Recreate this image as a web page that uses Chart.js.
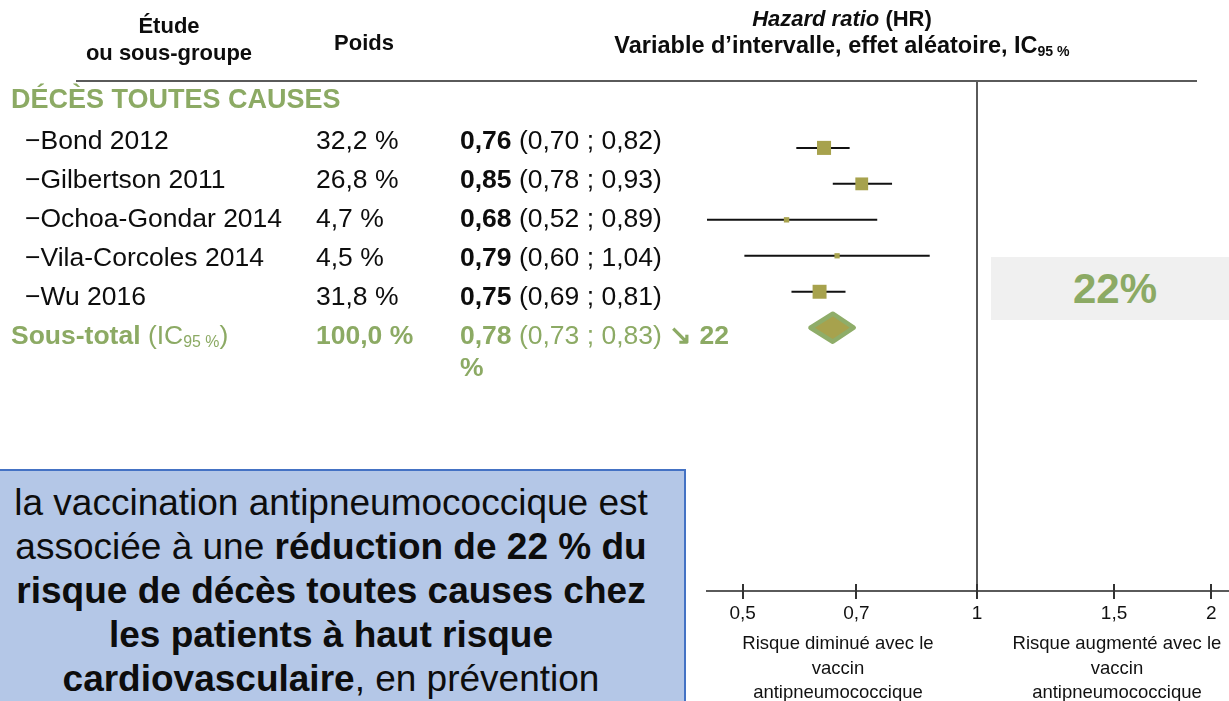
<!DOCTYPE html>
<html lang="fr">
<head>
<meta charset="utf-8">
<title>Vaccination antipneumococcique – décès toutes causes</title>
<script src="https://cdn.jsdelivr.net/npm/chart.js@4.4.1/dist/chart.umd.min.js"></script>
<style>
  html, body { margin: 0; padding: 0; background: #fff; }
  body {
    position: relative; width: 1229px; height: 701px; overflow: hidden;
    font-family: "Liberation Sans", Arial, Helvetica, sans-serif; color: #0d0d0d;
  }
  #forest { position: absolute; left: 0; top: 0; }
  .t { position: absolute; white-space: nowrap; }
  .c { transform: translateX(-50%); text-align: center; }
  .hdr { font-weight: bold; font-size: 22px; line-height: 27px; }
  .row { font-size: 26.5px; line-height: 32px; }
  .green { color: #8caa64; }
  sub.ic { font-size: 0.6em; vertical-align: baseline; position: relative; top: 0.2em; }
  #topRule { position: absolute; left: 76px; top: 80px; width: 1121px; height: 2px; background: #5a5a5a; }
  .axisNote { font-size: 18.5px; line-height: 24.5px; color: #111; }
  #summary {
    position: absolute; left: -2px; top: 469px; width: 688px; height: 260px;
    background: #b4c7e7; border: 2px solid #4472c4; box-sizing: border-box;
  }
  #summaryText {
    position: absolute; left: 0; top: 481px; width: 662px; text-align: center;
    font-size: 37px; line-height: 44px; color: #0d0d0d;
  }
  #badge {
    position: absolute; left: 991px; top: 257px; width: 248px; height: 63px;
    background: #f0f0f0; color: #8caa64; font-weight: bold; font-size: 42px;
    line-height: 63px; text-align: center;
  }
</style>
</head>
<body>
<canvas id="forest" width="1229" height="701"></canvas>

<div id="topRule"></div>
<div class="t c hdr" style="left:169px; top:12px;">Étude<br>ou sous-groupe</div>
<div class="t c hdr" style="left:364px; top:29px;">Poids</div>
<div class="t c hdr" style="left:842px; top:5px;"><i>Hazard ratio</i> (HR)<br><span style="font-size:23.5px;">Variable d’intervalle, effet aléatoire, IC<sub class="ic">95 %</sub></span></div>

<div class="t row green" style="left:11px; top:83px; font-weight:bold; font-size:27px;">DÉCÈS TOUTES CAUSES</div>
<div id="tableRows"></div>

<div class="t c axisNote" style="left:838px; top:631px;">Risque diminué avec le<br>vaccin<br>antipneumococcique</div>
<div class="t c axisNote" style="left:1117px; top:631px;">Risque augmenté avec le<br>vaccin<br>antipneumococcique</div>

<div id="badge"></div>

<div id="summary"></div>
<div id="summaryText">la vaccination antipneumococcique est<br>associée à une <b>réduction de 22 % du</b><br><b>risque de décès toutes causes chez</b><br><b>les patients à haut risque</b><br><b>cardiovasculaire</b>, en prévention</div>

<script>
// Studies of the meta-analysis (hazard ratio, 95 % CI, weight in %)
const studies  = ['Bond 2012', 'Gilbertson 2011', 'Ochoa-Gondar 2014', 'Vila-Corcoles 2014', 'Wu 2016'];
const weights  = [32.2, 26.8, 4.7, 4.5, 31.8];
const hazard   = [0.76, 0.85, 0.68, 0.79, 0.75];
const ciLow    = [0.70, 0.78, 0.52, 0.60, 0.69];
const ciHigh   = [0.82, 0.93, 0.89, 1.04, 0.81];

// Pooled random-effects estimate
const pooledHazard = 0.78;
const pooledLow    = 0.73;
const pooledHigh   = 0.83;
const pooledWeight = 100.0;

// Ticks of the hazard-ratio axis
const axisTicks = [0.5, 0.7, 1, 1.5, 2];

const GREEN = '#8caa64';
const OLIVE = '#a7a24d';
const fr = (v, d) => v.toFixed(d).replace('.', ',');
const reduction = Math.round((1 - pooledHazard) * 100);

// ---- text columns ----
const rowTop = 124, rowStep = 39;
let html = '';
studies.forEach((name, i) => {
  const top = rowTop + i * rowStep;
  html += `<div class="t row" style="left:25px; top:${top}px;">\u2212${name}</div>`;
  html += `<div class="t row" style="left:316px; top:${top}px;">${fr(weights[i], 1)} %</div>`;
  html += `<div class="t row" style="left:460px; top:${top}px;"><b>${fr(hazard[i], 2)}</b> (${fr(ciLow[i], 2)} ; ${fr(ciHigh[i], 2)})</div>`;
});
const totTop = rowTop + studies.length * rowStep;
html += `<div class="t row green" style="left:11px; top:${totTop}px;"><b>Sous-total</b> (IC<sub class="ic">95 %</sub>)</div>`;
html += `<div class="t row green" style="left:316px; top:${totTop}px;"><b>${fr(pooledWeight, 1)} %</b></div>`;
html += `<div class="t row green" style="left:460px; top:${totTop}px;"><b>${fr(pooledHazard, 2)}</b> (${fr(pooledLow, 2)} ; ${fr(pooledHigh, 2)}) <b>\u2198 ${reduction}</b><br><b>%</b></div>`;
document.getElementById('tableRows').innerHTML = html;
document.getElementById('badge').textContent = reduction + '%';

// ---- forest plot ----
const ciSets = studies.map((name, i) => ({
  label: name,
  data: [{ x: ciLow[i], y: i }, { x: ciHigh[i], y: i }],
  showLine: true,
  borderColor: '#111',
  borderWidth: 2,
  pointRadius: 0,
  xAxisID: 'xm',
  order: 2
}));

const squares = {
  label: 'HR',
  data: studies.map((name, i) => ({ x: hazard[i], y: i })),
  pointStyle: 'rect',
  pointRadius: weights.map(w => 1.75 * Math.sqrt(w)),
  pointBackgroundColor: OLIVE,
  pointBorderWidth: 0,
  showLine: false,
  xAxisID: 'xm',
  order: 1
};

const forestExtras = {
  id: 'forestExtras',
  afterDatasetsDraw(chart) {
    const { ctx, chartArea, scales } = chart;
    const { x, xm, y } = scales;
    // pooled diamond
    const yc = y.getPixelForValue(studies.length);
    const xl = xm.getPixelForValue(pooledLow);
    const xc = xm.getPixelForValue(pooledHazard);
    const xr = xm.getPixelForValue(pooledHigh);
    ctx.save();
    ctx.beginPath();
    ctx.moveTo(xl, yc);
    ctx.lineTo(xc, yc - 14);
    ctx.lineTo(xr, yc);
    ctx.lineTo(xc, yc + 14);
    ctx.closePath();
    ctx.fillStyle = OLIVE;
    ctx.fill();
    ctx.lineWidth = 4.5;
    ctx.lineJoin = 'round';
    ctx.strokeStyle = '#8fad69';
    ctx.stroke();
    // tick marks crossing the axis line
    ctx.strokeStyle = '#333';
    ctx.lineWidth = 2;
    x.ticks.forEach(t => {
      const px = Math.round(x.getPixelForValue(t.value));
      ctx.beginPath();
      ctx.moveTo(px, chartArea.bottom - 7);
      ctx.lineTo(px, chartArea.bottom + 8);
      ctx.stroke();
    });
    ctx.restore();
  }
};

new Chart(document.getElementById('forest'), {
  type: 'scatter',
  data: { datasets: [squares, ...ciSets] },
  options: {
    responsive: false,
    animation: false,
    events: [],
    layout: { autoPadding: false, padding: { left: 707, right: 0, top: 81, bottom: 0 } },
    plugins: { legend: { display: false }, tooltip: { enabled: false } },
    scales: {
      x: {
        type: 'logarithmic',
        position: 'bottom',
        min: 0.4499,
        max: 2.1076,
        afterBuildTicks: s => { s.ticks = axisTicks.map(v => ({ value: v })); },
        afterFit: s => { s.height = 110; s.paddingLeft = 0; s.paddingRight = 0; },
        ticks: {
          autoSkip: false,
          maxRotation: 0,
          padding: 11,
          color: '#111',
          font: { family: '"Liberation Sans", Arial, sans-serif', size: 19 },
          callback: v => String(v).replace('.', ',')
        },
        grid: {
          drawTicks: false,
          drawOnChartArea: true,
          lineWidth: 2,
          color: c => (c.tick && c.tick.value === 1 ? '#5a5a5a' : 'rgba(0,0,0,0)')
        },
        border: { display: true, color: '#5a5a5a', width: 2 }
      },
      xm: {
        type: 'logarithmic',
        position: 'bottom',
        display: false,
        min: 0.537,
        max: 2.528
      },
      y: {
        type: 'linear',
        display: false,
        reverse: true,
        min: -1.86,
        max: 12.32
      }
    }
  },
  plugins: [forestExtras]
});
</script>
</body>
</html>
